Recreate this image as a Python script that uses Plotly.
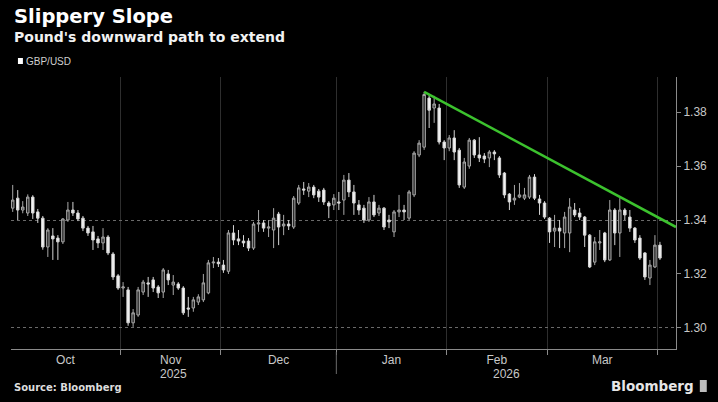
import numpy as np
import pandas as pd
import plotly.graph_objects as go

# ---------------- data (GBP/USD daily candles) ----------------
dates = pd.bdate_range("2025-10-02", periods=130)

open_ = [
    # Oct
    1.3444, 1.3481, 1.3437, 1.3426, 1.3485, 1.3430, 1.3407, 1.3300, 1.3341, 1.3333, 1.3319,
    1.3400, 1.3437, 1.3426, 1.3407, 1.3370, 1.3356, 1.3330, 1.3315, 1.3337, 1.3274, 1.3193,
    # Nov
    1.3148, 1.3141, 1.3019, 1.3048, 1.3133, 1.3167, 1.3178, 1.3152, 1.3133, 1.3200,
    1.3159, 1.3163, 1.3148, 1.3074, 1.3074, 1.3096, 1.3104, 1.3130, 1.3241, 1.3244,
    # Dec
    1.3233, 1.3210, 1.3352, 1.3330, 1.3322, 1.3322, 1.3296, 1.3385, 1.3389, 1.3370, 1.3363, 1.3422,
    1.3378, 1.3385, 1.3374, 1.3463, 1.3515, 1.3507, 1.3522, 1.3507, 1.3511, 1.3463, 1.3456,
    # Jan
    1.3467, 1.3474, 1.3548, 1.3504, 1.3456, 1.3444, 1.3400, 1.3467, 1.3426, 1.3444, 1.3400,
    1.3356, 1.3430, 1.3437, 1.3407, 1.3493, 1.3641, 1.3670, 1.3852, 1.3815, 1.3815, 1.3689,
    # Feb
    1.3667, 1.3704, 1.3659, 1.3522, 1.3600, 1.3696, 1.3641, 1.3637, 1.3630, 1.3652,
    1.3630, 1.3574, 1.3496, 1.3474, 1.3485, 1.3481, 1.3485, 1.3559, 1.3478, 1.3463,
    # Mar / Apr
    1.3407, 1.3359, 1.3370, 1.3352, 1.3352, 1.3437, 1.3426, 1.3411, 1.3344, 1.3244, 1.3315, 1.3352,
    1.3252, 1.3437, 1.3352, 1.3437, 1.3411, 1.3370, 1.3333, 1.3278, 1.3185, 1.3226, 1.3307,
]
high_ = [
    1.3530, 1.3511, 1.3470, 1.3495, 1.3492, 1.3441, 1.3415, 1.3370, 1.3370, 1.3344, 1.3407,
    1.3467, 1.3467, 1.3437, 1.3415, 1.3378, 1.3378, 1.3341, 1.3370, 1.3344, 1.3281, 1.3200,
    1.3170, 1.3152, 1.3070, 1.3152, 1.3178, 1.3189, 1.3189, 1.3159, 1.3222, 1.3215,
    1.3196, 1.3170, 1.3155, 1.3115, 1.3115, 1.3125, 1.3200, 1.3252, 1.3263, 1.3259,
    1.3252, 1.3363, 1.3381, 1.3363, 1.3344, 1.3333, 1.3393, 1.3437, 1.3400, 1.3400, 1.3444, 1.3430,
    1.3419, 1.3400, 1.3489, 1.3530, 1.3541, 1.3537, 1.3530, 1.3515, 1.3519, 1.3470, 1.3496,
    1.3504, 1.3567, 1.3574, 1.3530, 1.3474, 1.3456, 1.3485, 1.3493, 1.3456, 1.3448, 1.3419,
    1.3437, 1.3493, 1.3456, 1.3511, 1.3655, 1.3696, 1.3875, 1.3863, 1.3860, 1.3830, 1.3696,
    1.3715, 1.3733, 1.3667, 1.3630, 1.3704, 1.3700, 1.3707, 1.3648, 1.3659, 1.3659,
    1.3637, 1.3578, 1.3500, 1.3530, 1.3537, 1.3519, 1.3567, 1.3570, 1.3493, 1.3470,
    1.3411, 1.3419, 1.3400, 1.3430, 1.3481, 1.3463, 1.3444, 1.3415, 1.3348, 1.3337, 1.3363, 1.3356,
    1.3474, 1.3444, 1.3481, 1.3444, 1.3437, 1.3374, 1.3344, 1.3281, 1.3252, 1.3344, 1.3319,
]
low_ = [
    1.3430, 1.3400, 1.3425, 1.3415, 1.3404, 1.3389, 1.3290, 1.3263, 1.3252, 1.3252, 1.3311,
    1.3393, 1.3415, 1.3396, 1.3359, 1.3341, 1.3289, 1.3296, 1.3289, 1.3270, 1.3178, 1.3141,
    1.3115, 1.3008, 1.3004, 1.3041, 1.3122, 1.3115, 1.3133, 1.3111, 1.3111, 1.3159,
    1.3122, 1.3141, 1.3048, 1.3041, 1.3060, 1.3085, 1.3096, 1.3125, 1.3222, 1.3226,
    1.3204, 1.3200, 1.3307, 1.3307, 1.3300, 1.3285, 1.3289, 1.3356, 1.3356, 1.3337, 1.3296, 1.3307,
    1.3344, 1.3363, 1.3367, 1.3456, 1.3493, 1.3485, 1.3481, 1.3467, 1.3456, 1.3407, 1.3437,
    1.3437, 1.3419, 1.3485, 1.3419, 1.3419, 1.3389, 1.3393, 1.3411, 1.3415, 1.3363, 1.3370,
    1.3337, 1.3411, 1.3400, 1.3400, 1.3485, 1.3633, 1.3660, 1.3741, 1.3760, 1.3680, 1.3622,
    1.3655, 1.3622, 1.3519, 1.3515, 1.3590, 1.3630, 1.3615, 1.3611, 1.3596, 1.3622,
    1.3556, 1.3481, 1.3437, 1.3456, 1.3481, 1.3474, 1.3478, 1.3474, 1.3419, 1.3404,
    1.3315, 1.3300, 1.3296, 1.3296, 1.3281, 1.3411, 1.3400, 1.3300, 1.3222, 1.3233, 1.3289, 1.3244,
    1.3248, 1.3307, 1.3263, 1.3400, 1.3356, 1.3315, 1.3252, 1.3178, 1.3159, 1.3222, 1.3252,
]
close_ = [
    1.3474, 1.3437, 1.3448, 1.3485, 1.3426, 1.3407, 1.3300, 1.3363, 1.3330, 1.3319, 1.3404,
    1.3437, 1.3426, 1.3404, 1.3370, 1.3352, 1.3326, 1.3315, 1.3337, 1.3278, 1.3189, 1.3148,
    1.3152, 1.3019, 1.3056, 1.3141, 1.3170, 1.3163, 1.3148, 1.3130, 1.3215, 1.3178,
    1.3170, 1.3148, 1.3056, 1.3070, 1.3104, 1.3115, 1.3167, 1.3241, 1.3244, 1.3238,
    1.3215, 1.3352, 1.3326, 1.3322, 1.3315, 1.3296, 1.3385, 1.3389, 1.3370, 1.3374, 1.3407, 1.3374,
    1.3385, 1.3378, 1.3481, 1.3519, 1.3511, 1.3522, 1.3493, 1.3485, 1.3467, 1.3452, 1.3481,
    1.3463, 1.3548, 1.3504, 1.3463, 1.3437, 1.3400, 1.3467, 1.3419, 1.3444, 1.3374, 1.3393,
    1.3430, 1.3437, 1.3430, 1.3504, 1.3648, 1.3685, 1.3865, 1.3807, 1.3830, 1.3689, 1.3667,
    1.3704, 1.3652, 1.3530, 1.3615, 1.3696, 1.3641, 1.3630, 1.3626, 1.3652, 1.3645,
    1.3567, 1.3493, 1.3467, 1.3481, 1.3493, 1.3493, 1.3559, 1.3481, 1.3463, 1.3411,
    1.3356, 1.3370, 1.3359, 1.3411, 1.3448, 1.3419, 1.3411, 1.3344, 1.3226, 1.3319, 1.3319, 1.3252,
    1.3437, 1.3352, 1.3437, 1.3419, 1.3370, 1.3326, 1.3259, 1.3189, 1.3233, 1.3307, 1.3259,
]

trend_end_value = 1.3374          # where the green resistance line meets the right axis
y_ticks = [1.30, 1.32, 1.34, 1.36, 1.38]
y_grid = [1.30, 1.34]             # dotted reference lines visible in the chart
month_names = ["Oct", "Nov", "Dec", "Jan", "Feb", "Mar"]

# ---------------- derived positions ----------------
x = np.arange(len(dates))
x_lo, x_hi = -0.34, 132.2
y_lo, y_hi = 1.2922, 1.3930

firsts = [i for i in range(len(dates)) if i == 0 or dates[i].month != dates[i - 1].month]
boundaries = [f - 0.5 for f in firsts[1:]]
centers = []
for k, f in enumerate(firsts[:len(month_names)]):
    last = firsts[k + 1] - 1 if k + 1 < len(firsts) else len(dates) - 1
    centers.append((f + last) / 2)

year_break = next(i for i in range(1, len(dates)) if dates[i].year != dates[i - 1].year) - 0.5
peak = int(np.argmax(high_))

fig = go.Figure()
fig.add_trace(go.Candlestick(
    x=x, open=open_, high=high_, low=low_, close=close_,
    increasing=dict(line=dict(color="#a8a8a8", width=1), fillcolor="#2c2c2c"),
    decreasing=dict(line=dict(color="#d4d4d4", width=1), fillcolor="#f4f4f4"),
    whiskerwidth=0, hoverinfo="skip", name="GBP/USD",
))
fig.add_trace(go.Scatter(
    x=[x[peak], x_hi], y=[high_[peak], trend_end_value], mode="lines",
    line=dict(color="#3cc22e", width=2.5), hoverinfo="skip",
))

W, H = 718, 402
ml, mr, mt, mb = 11, 37, 77, 53
pw, ph = W - ml - mr, H - mt - mb


def px(xp):
    return (xp - ml) / pw


def py(yp):
    return (H - mb - yp) / ph


ann = []
ann.append(dict(text="Slippery Slope", x=px(12), y=py(17), xref="paper", yref="paper",
                xanchor="left", yanchor="middle", showarrow=False,
                font=dict(family="DejaVu Sans", size=19.5, color="#ffffff", weight="bold")))
ann.append(dict(text="Pound's downward path to extend", x=px(12), y=py(37), xref="paper", yref="paper",
                xanchor="left", yanchor="middle", showarrow=False,
                font=dict(family="DejaVu Sans", size=14, color="#f2f2f2", weight="bold")))
ann.append(dict(text="GBP/USD", x=px(24), y=py(61), xref="paper", yref="paper",
                xanchor="left", yanchor="middle", showarrow=False,
                font=dict(family="Liberation Sans", size=10, color="#cfcfcf")))
ann.append(dict(text="Source: Bloomberg", x=px(12), y=py(387), xref="paper", yref="paper",
                xanchor="left", yanchor="middle", showarrow=False,
                font=dict(family="DejaVu Sans", size=10, color="#dddddd", weight="bold")))
ann.append(dict(text="Bloomberg", x=px(701), y=py(386), xref="paper", yref="paper",
                xanchor="right", yanchor="middle", showarrow=False,
                font=dict(family="DejaVu Sans", size=13.5, color="#e6e6e6", weight=600)))
for yr, xc in ((2025, (x_lo + year_break) / 2), (2026, (year_break + x_hi) / 2)):
    ann.append(dict(text=str(yr), x=xc, y=py(374), xref="x", yref="paper",
                    xanchor="center", yanchor="middle", showarrow=False,
                    font=dict(family="Liberation Sans", size=12, color="#c8c8c8")))

shapes = [
    dict(type="rect", xref="paper", yref="paper", x0=px(18), x1=px(23), y0=py(64), y1=py(58),
         fillcolor="#ffffff", line=dict(width=0)),
    dict(type="line", xref="x", yref="paper", x0=year_break, x1=year_break, y0=py(352), y1=py(374),
         line=dict(color="#6a6a6a", width=1)),
    dict(type="rect", xref="paper", yref="paper", x0=px(705), x1=px(712), y0=py(392), y1=py(380),
         fillcolor="#bdbdbd", line=dict(width=0)),
]

fig.update_layout(
    width=W, height=H, margin=dict(l=ml, r=mr, t=mt, b=mb),
    paper_bgcolor="#000000", plot_bgcolor="#000000", showlegend=False,
    annotations=ann, shapes=shapes,
    xaxis=dict(
        range=[x_lo, x_hi], tickmode="array", tickvals=centers, ticktext=month_names,
        ticks="", showgrid=False, zeroline=False, showline=True, linecolor="#8a8a8a", linewidth=1,
        tickfont=dict(family="Liberation Sans", size=12, color="#c8c8c8"),
        rangeslider=dict(visible=False),
        minor=dict(tickmode="array", tickvals=boundaries, ticks="outside", ticklen=5,
                   tickcolor="#8a8a8a", showgrid=True, gridcolor="#2e2e2e", gridwidth=1),
    ),
    yaxis=dict(
        side="right", range=[y_lo, y_hi], tickmode="array", tickvals=y_ticks, tickformat=".2f",
        showgrid=False, zeroline=False,
        showline=True, linecolor="#8a8a8a", linewidth=1, ticks="outside", ticklen=4,
        tickcolor="#8a8a8a", tickfont=dict(family="Liberation Sans", size=12, color="#c8c8c8"),
        minor=dict(tickmode="array", tickvals=y_grid, ticks="", showgrid=True,
                   gridcolor="#6a6a6a", griddash="dot", gridwidth=1),
    ),
)

fig.write_html("out.html")
